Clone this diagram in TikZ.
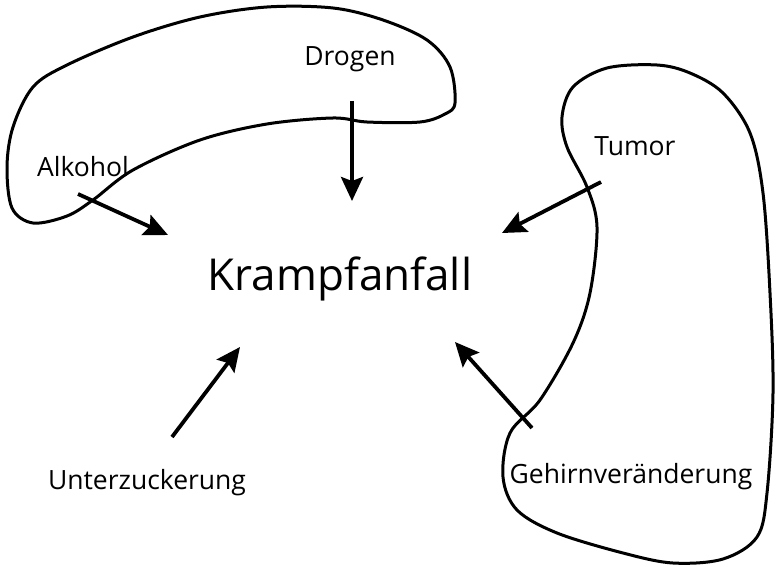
\documentclass[tikz,border=0pt]{standalone}
\usepackage{fontspec}
\setmainfont{Open Sans}
\usetikzlibrary{arrows.meta}
\begin{document}
\begin{tikzpicture}[x=1pt,y=-1pt,
  blob/.style={line width=3pt, line join=round},
  label/.style={anchor=base, inner sep=0pt, font=\fontsize{26.5}{30}\selectfont},
  title/.style={anchor=base, inner sep=0pt, font=\fontsize{44}{50}\selectfont},
  cause/.style={line width=3.8pt, -{Stealth[length=24pt,width=22pt,inset=4pt]}}]
\useasboundingbox (0,0) rectangle (776,567);
% upper region (Alkohol, Drogen)
\draw[blob] plot[smooth cycle, tension=0.55] coordinates {
  (13,127) (33,87) (67,65) (133,37) (200,17) (267,7) (333,8) (383,20)
  (427,40) (450,67) (455,103) (445,114) (420,122) (367,122) (333,118)
  (267,124) (200,140) (133,170) (93,200) (67,216) (33,223) (12,208) (7,167)};
% right region (Tumor, Gehirnveraenderung)
\draw[blob] plot[smooth cycle, tension=0.55] coordinates {
  (573,87) (607,68) (657,65) (690,73) (723,93) (750,133) (763,193)
  (770,293) (773,393) (767,493) (757,537) (723,559) (673,563) (623,553)
  (557,533) (517,510) (503,477) (510,433) (540,400) (573,343) (590,293)
  (597,227) (587,187) (567,147) (562,117)};
% labels
\node[title] (k) at (340,290) {Krampfanfall};
\node[label] (dro) at (350,66) {Drogen};
\node[label] (alk) at (83,176) {Alkohol};
\node[label] (tum) at (635,155) {Tumor};
\node[label] (unt) at (147,489) {Unterzuckerung};
\node[label] (geh) at (631,483) {Gehirnveränderung};
% arrow ends
\coordinate (droS) at (352,101);  \coordinate (droE) at (352,201);
\coordinate (alkS) at (78,194);   \coordinate (alkE) at (168,235);
\coordinate (tumS) at (601,182);  \coordinate (tumE) at (502,233);
\coordinate (gehS) at (532,428);  \coordinate (gehE) at (455,342);
\coordinate (untS) at (172,437);  \coordinate (untE) at (240,347);
\draw[cause] (droS) -- (droE);
\draw[cause] (alkS) -- (alkE);
\draw[cause] (tumS) -- (tumE);
\draw[cause] (gehS) -- (gehE);
\draw[cause] (untS) -- (untE);
\end{tikzpicture}
\end{document}
